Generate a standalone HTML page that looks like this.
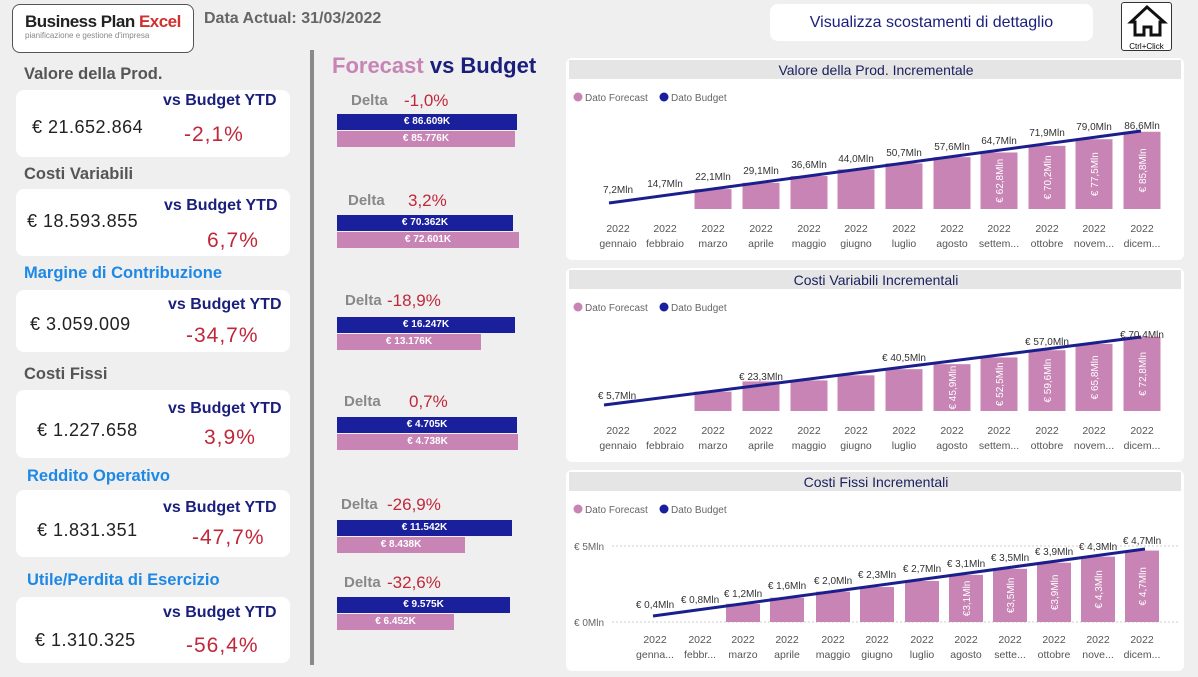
<!DOCTYPE html>
<html><head><meta charset="utf-8">
<style>
*{margin:0;padding:0;box-sizing:border-box}
body{width:1198px;height:677px;background:#efefef;font-family:"Liberation Sans",sans-serif;position:relative;overflow:hidden}
.a{position:absolute}
.card{position:absolute;background:#fff;border-radius:8px;left:16px;width:274px}
.ttl{position:absolute;left:24px;font-size:16.5px;font-weight:bold;color:#555}
.ttl.b{color:#1e88e5}
.vs{position:absolute;font-size:16px;font-weight:bold;color:#1a1f7c}
.val{position:absolute;font-size:18px;color:#222;letter-spacing:0.5px}
.pct{position:absolute;font-size:21px;color:#c0283a;letter-spacing:1px}
.delta{position:absolute;font-size:15px;font-weight:bold;color:#888}
.dv{position:absolute;font-size:17px;color:#c0283a}
.bar{position:absolute;left:337px;height:16px;color:#fff;font-size:10px;font-weight:bold;text-align:center;line-height:16px}
.nb{background:#1a1f9c}.pb{background:#c784b4}
.panel{position:absolute;left:566px;width:618px;background:#fff;border-radius:6px}
</style></head><body>
<div class="a" style="left:12px;top:4px;width:182px;height:49px;border:1px solid #555;border-radius:8px;background:#fff"></div>
<div class="a" style="left:25px;top:12px;font-size:17px;font-weight:bold;color:#222;letter-spacing:-0.5px">Business Plan <span style="color:#d32f2f">Excel</span></div>
<div class="a" style="left:25px;top:31px;font-size:8px;color:#888">pianificazione e gestione d'impresa</div>
<div class="a" style="left:204px;top:10px;font-size:16px;font-weight:bold;color:#666">Data Actual: 31/03/2022</div>
<div class="a" style="left:770px;top:4px;width:323px;height:37px;background:#fff;border-radius:8px;font-size:16px;color:#1a1f7c;text-align:center;line-height:37px">Visualizza scostamenti di dettaglio</div>
<div class="a" style="left:1121px;top:2px;width:51px;height:49px;background:#fff;border:1px solid #333;border-radius:3px">
<svg width="51" height="36" viewBox="0 0 51 36"><path d="M25 4 L9 19 L13 19 L13 32 L22 32 L22 24 L29 24 L29 32 L38 32 L38 19 L42 19 Z" fill="none" stroke="#111" stroke-width="3"/></svg>
<div style="font-size:8px;text-align:center;margin-top:-2px">Ctrl+Click</div></div>

<div class="ttl" style="top:65px">Valore della Prod.</div>
<div class="card" style="top:90px;height:67px"></div>
<div class="vs" style="left:163px;top:92px">vs Budget YTD</div>
<div class="val" style="left:32px;top:117px">€ 21.652.864</div>
<div class="pct" style="left:184px;top:123px">-2,1%</div>

<div class="ttl" style="top:165px">Costi Variabili</div>
<div class="card" style="top:189px;height:67px"></div>
<div class="vs" style="left:164px;top:197px">vs Budget YTD</div>
<div class="val" style="left:27px;top:211px">€ 18.593.855</div>
<div class="pct" style="left:207px;top:229px">6,7%</div>

<div class="ttl b" style="top:264px">Margine di Contribuzione</div>
<div class="card" style="top:290px;height:62px"></div>
<div class="vs" style="left:168px;top:296px">vs Budget YTD</div>
<div class="val" style="left:30px;top:314px">€ 3.059.009</div>
<div class="pct" style="left:186px;top:324px">-34,7%</div>

<div class="ttl" style="top:365px">Costi Fissi</div>
<div class="card" style="top:390px;height:68px"></div>
<div class="vs" style="left:168px;top:400px">vs Budget YTD</div>
<div class="val" style="left:37px;top:420px">€ 1.227.658</div>
<div class="pct" style="left:204px;top:426px">3,9%</div>

<div class="ttl b" style="top:467px;left:27px">Reddito Operativo</div>
<div class="card" style="top:490px;height:67px"></div>
<div class="vs" style="left:163px;top:499px">vs Budget YTD</div>
<div class="val" style="left:37px;top:520px">€ 1.831.351</div>
<div class="pct" style="left:192px;top:526px">-47,7%</div>

<div class="ttl b" style="top:571px;left:27px">Utile/Perdita di Esercizio</div>
<div class="card" style="top:597px;height:66px"></div>
<div class="vs" style="left:163px;top:604px">vs Budget YTD</div>
<div class="val" style="left:35px;top:630px">€ 1.310.325</div>
<div class="pct" style="left:186px;top:634px">-56,4%</div>

<div class="a" style="left:310px;top:50px;width:4px;height:615px;background:#8a8a8a"></div>

<div class="a" style="left:332px;top:53px;font-size:22px;font-weight:bold;color:#c784b4">Forecast <span style="color:#1a1f7c">vs Budget</span></div>

<div class="delta" style="left:351px;top:92px">Delta</div><div class="dv" style="left:404px;top:91px">-1,0%</div>
<div class="bar nb" style="top:114px;width:180px">€ 86.609K</div>
<div class="bar pb" style="top:131px;width:178px">€ 85.776K</div>

<div class="delta" style="left:348px;top:192px">Delta</div><div class="dv" style="left:408px;top:191px">3,2%</div>
<div class="bar nb" style="top:215px;width:176px">€ 70.362K</div>
<div class="bar pb" style="top:232px;width:182px">€ 72.601K</div>

<div class="delta" style="left:345px;top:292px">Delta</div><div class="dv" style="left:387px;top:291px">-18,9%</div>
<div class="bar nb" style="top:317px;width:178px">€ 16.247K</div>
<div class="bar pb" style="top:334px;width:144px">€ 13.176K</div>

<div class="delta" style="left:344px;top:393px">Delta</div><div class="dv" style="left:409px;top:392px">0,7%</div>
<div class="bar nb" style="top:417px;width:180px">€ 4.705K</div>
<div class="bar pb" style="top:434px;width:181px">€ 4.738K</div>

<div class="delta" style="left:341px;top:496px">Delta</div><div class="dv" style="left:387px;top:495px">-26,9%</div>
<div class="bar nb" style="top:520px;width:175px">€ 11.542K</div>
<div class="bar pb" style="top:537px;width:128px">€ 8.438K</div>

<div class="delta" style="left:344px;top:574px">Delta</div><div class="dv" style="left:387px;top:573px">-32,6%</div>
<div class="bar nb" style="top:597px;width:173px">€ 9.575K</div>
<div class="bar pb" style="top:614px;width:117px">€ 6.452K</div>

<div class="panel" style="top:58px;height:202px"></div>
<div class="panel" style="top:268px;height:194px"></div>
<div class="panel" style="top:470px;height:201px"></div>

<svg class="a" id="ch" style="left:0;top:0" width="1198" height="677" font-family="Liberation Sans, sans-serif"></svg>
<script>
var s='';
var months=['gennaio','febbraio','marzo','aprile','maggio','giugno','luglio','agosto','settem...','ottobre','novem...','dicem...'];
var months3=['genna...','febbr...','marzo','aprile','maggio','giugno','luglio','agosto','sette...','ottobre','nove...','dicem...'];
function panel(top,title){
 s+='<rect x="569" y="'+(top+2)+'" width="612" height="19" fill="#e5e5e5"/>';
 s+='<text x="876" y="'+(top+17)+'" text-anchor="middle" font-size="14" fill="#1a1f5c">'+title+'</text>';
 s+='<circle cx="578" cy="'+(top+39)+'" r="4.5" fill="#c784b4"/><text x="585" y="'+(top+43)+'" font-size="10" fill="#666">Dato Forecast</text>';
 s+='<circle cx="664" cy="'+(top+39)+'" r="4.5" fill="#1a1f9c"/><text x="671" y="'+(top+43)+'" font-size="10" fill="#666">Dato Budget</text>';
}
function chart(o){
 var n=12;
 for(var i=0;i<n;i++){
  var cx=o.xs[i];
  var f=o.f[i];
  if(f!=null){var h=f*o.k;s+='<rect x="'+(cx-o.w/2)+'" y="'+(o.base-h)+'" width="'+o.w+'" height="'+h+'" fill="#c784b4"/>';
   if(o.fl[i]){var ty=o.base-h/2;s+='<text transform="translate('+(cx+4)+','+ty+') rotate(-90)" text-anchor="middle" font-size="10" fill="#fff">'+o.fl[i]+'</text>';}}
  s+='<text x="'+cx+'" y="'+o.ly+'" text-anchor="middle" font-size="10.5" fill="#555">2022</text>';
  s+='<text x="'+cx+'" y="'+(o.ly+15)+'" text-anchor="middle" font-size="10.5" fill="#555">'+o.m[i]+'</text>';
 }
 s+='<line x1="'+o.l[0]+'" y1="'+o.l[1]+'" x2="'+o.l[2]+'" y2="'+o.l[3]+'" stroke="#1a1f8c" stroke-width="3"/>';
 for(var j=0;j<o.bl.length;j++){var b=o.bl[j];s+='<text x="'+b[0]+'" y="'+b[1]+'" text-anchor="middle" font-size="10" fill="#333">'+b[2]+'</text>';}
}
var xs1=[618,665,713,761,809,856,904,952,999,1047,1094,1142];
panel(58,'Valore della Prod. Incrementale');
chart({xs:xs1,w:37,base:209,k:0.9,ly:232,m:months,
 f:[null,null,22.1,29.1,36.6,44,50.7,57.6,62.8,70.2,77.5,85.8],
 fl:[0,0,0,0,0,0,0,0,'€ 62,8Mln','€ 70,2Mln','€ 77,5Mln','€ 85,8Mln'],
 l:[609,203,1141,131],
 bl:[[618,193,'7,2Mln'],[665,187,'14,7Mln'],[713,180,'22,1Mln'],[761,174,'29,1Mln'],[809,168,'36,6Mln'],[856,162,'44,0Mln'],[904,156,'50,7Mln'],[952,150,'57,6Mln'],[999,144,'64,7Mln'],[1047,136,'71,9Mln'],[1094,130,'79,0Mln'],[1142,129,'86,6Mln']]});
panel(268,'Costi Variabili Incrementali');
chart({xs:xs1,w:37,base:411,k:1.02,ly:434,m:months,
 f:[null,null,19,29,30,35,41,45.9,52.5,59.6,65.8,72.8],
 fl:[0,0,0,0,0,0,0,'€ 45,9Mln','€ 52,5Mln','€ 59,6Mln','€ 65,8Mln','€ 72,8Mln'],
 l:[604,405,1141,337],
 bl:[[617,399,'€ 5,7Mln'],[761,380,'€ 23,3Mln'],[904,361,'€ 40,5Mln'],[1047,345,'€ 57,0Mln'],[1142,338,'€ 70,4Mln']]});
panel(470,'Costi Fissi Incrementali');
s+='<line x1="612" y1="546" x2="1180" y2="546" stroke="#ccc" stroke-dasharray="2,2"/><line x1="612" y1="622" x2="1180" y2="622" stroke="#ccc" stroke-dasharray="2,2"/>';
s+='<text x="574" y="550" font-size="10" fill="#666">€ 5Mln</text><text x="574" y="626" font-size="10" fill="#666">€ 0Mln</text>';
var xs3=[655,700,743,787,833,877,922,966,1010,1054,1098,1142];
chart({xs:xs3,w:34,base:622,k:15.2,ly:643,m:months3,
 f:[null,null,1.2,1.6,2.0,2.3,2.7,3.1,3.5,3.9,4.3,4.7],
 fl:[0,0,0,0,0,0,0,'€3,1Mln','€3,5Mln','€3,9Mln','€ 4,3Mln','€ 4,7Mln'],
 l:[653,616,1145,549],
 bl:[[655,608,'€ 0,4Mln'],[700,603,'€ 0,8Mln'],[743,597,'€ 1,2Mln'],[787,589,'€ 1,6Mln'],[833,584,'€ 2,0Mln'],[877,578,'€ 2,3Mln'],[922,572,'€ 2,7Mln'],[966,567,'€ 3,1Mln'],[1010,561,'€ 3,5Mln'],[1054,555,'€ 3,9Mln'],[1098,550,'€ 4,3Mln'],[1142,544,'€ 4,7Mln']]});
document.getElementById('ch').innerHTML=s;
</script>
</body></html>
